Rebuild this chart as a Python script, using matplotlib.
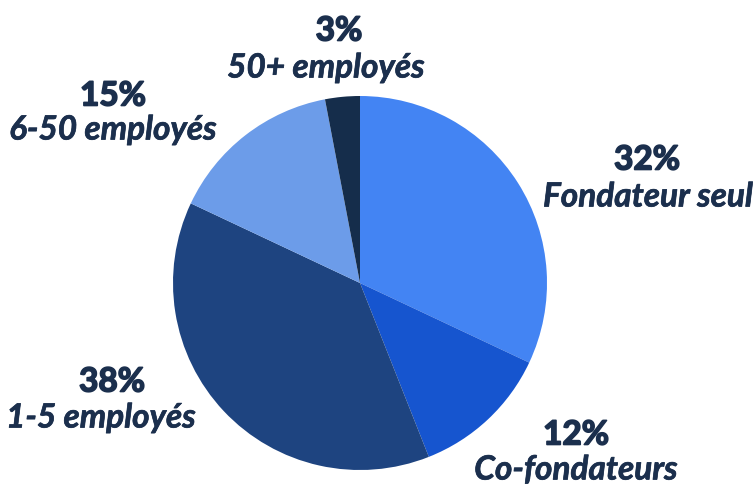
import matplotlib
matplotlib.use("Agg")
import matplotlib.pyplot as plt
import matplotlib.patheffects as pe

# share of companies by team size
categories = ['Fondateur seul', 'Co-fondateurs', '1-5 employés', '6-50 employés', '50+ employés']
shares = [32, 12, 38, 15, 3]
colors = ['#4384f3', '#1655cf', '#1e4480', '#6c9ce9', '#152d4b']

TEXT = '#1b2f4d'
W, H = 753, 499
CX, CY, R = 360, 283, 187  # pie centre / radius in pixels

# label centres in pixels: (pct x, pct y, name x, name y)
label_pos = [(647, 160, 648, 197), (576, 435, 576, 470), (112, 382, 101, 418),
             (113, 96, 113, 130), (339, 31, 326, 68)]

fig = plt.figure(figsize=(W / 100, H / 100), dpi=100)
ax = fig.add_axes([(CX - R) / W, (H - CY - R) / H, 2 * R / W, 2 * R / H])
ax.pie(shares, colors=colors, startangle=90, counterclock=False,
       wedgeprops=dict(linewidth=0, antialiased=True))
ax.set_xlim(-1, 1)
ax.set_ylim(-1, 1)
ax.set_aspect('equal')
ax.axis('off')

heavy = [pe.withStroke(linewidth=1.2, foreground=TEXT)]
for cat, val, (px1, py1, px2, py2) in zip(categories, shares, label_pos):
    fig.text(px1 / W, 1 - py1 / H, f'{val}%', ha='center', va='center',
             fontsize=24, fontfamily='Lato', fontweight='bold', color=TEXT,
             path_effects=heavy)
    fig.text(px2 / W, 1 - py2 / H, cat, ha='center', va='center',
             fontsize=24, fontfamily='Lato', fontweight='bold', fontstyle='italic',
             color=TEXT, path_effects=[pe.withStroke(linewidth=0.5, foreground=TEXT)])

fig.savefig('out.png', dpi=100, facecolor='white')
